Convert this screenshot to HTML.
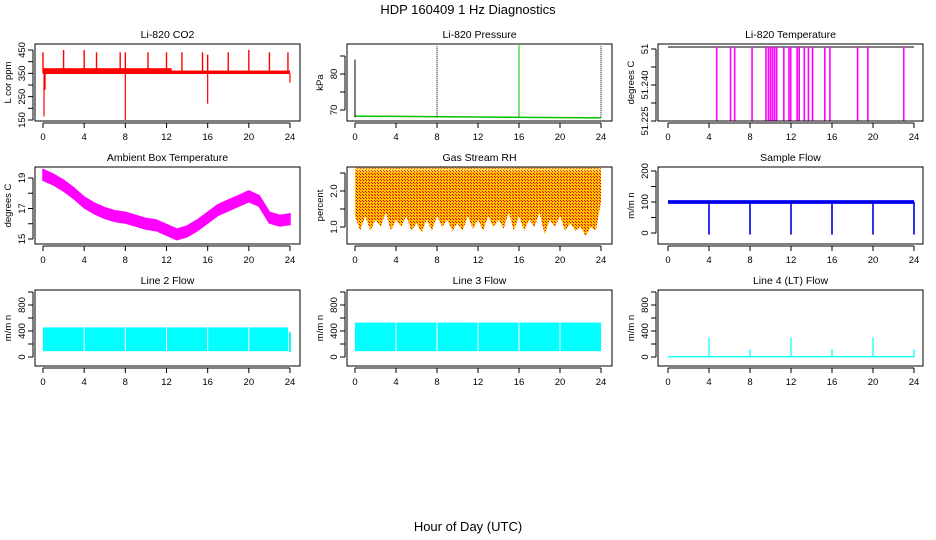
<!DOCTYPE html>
<html><head><meta charset="utf-8"><style>
body{margin:0;background:#fff}
svg{display:block;font-family:"Liberation Sans",sans-serif}
</style></head><body>
<svg id="c" width="936" height="540" viewBox="0 0 936 540">
<defs>
<pattern id="hatch" width="3" height="3" patternUnits="userSpaceOnUse"><rect width="3" height="3" fill="#ffc000"/><rect width="1" height="1" fill="#e00000"/><rect x="2" y="2" width="1" height="1" fill="#e00000"/></pattern>
</defs>
<text x="468" y="14" font-size="13" text-anchor="middle">HDP  160409  1 Hz Diagnostics</text>
<text x="468" y="531" font-size="13" text-anchor="middle">Hour of Day (UTC)</text>
</svg>
<script>
// ---- data ----
const hourTicks=[0,4,8,12,16,20,24];
const co2UpHours=[0,2,4,5.2,7.5,8,10.2,12,13.5,15.5,16,18,20,22,23.8];
const co2UpValues=[440,450,450,440,440,440,440,440,440,440,430,440,450,440,440];
const co2DownHours=[0.1,0.2,8,16,24];
const co2DownValues=[165,280,150,220,310];
const presSpikeHours=[0,8,16,24];
const presSpikeValues=[84,88,88,88];
const tempDropHours=[4.75,6.1,6.5,8.2,9.56,9.8,10.0,10.2,10.4,10.6,11.3,11.8,11.97,12.6,12.8,13.3,13.7,14.1,15.3,15.8,18.5,19.5,23.0];
const ambHours=[0,1,2,3,4,5,6,7,8,9,10,11,12,13,14,15,16,17,18,19,20,21,22,23,24];
const ambValues=[19.2,18.9,18.5,18.0,17.4,17.0,16.7,16.5,16.4,16.2,16.0,15.9,15.6,15.3,15.5,15.9,16.4,16.9,17.2,17.5,17.8,17.5,16.4,16.2,16.3];
const rhHours=[0,0.5,1,1.5,2,2.5,3,3.5,4,4.5,5,5.5,6,6.5,7,7.5,8,8.5,9,9.5,10,10.5,11,11.5,12,12.5,13,13.5,14,14.5,15,15.5,16,16.5,17,17.5,18,18.5,19,19.5,20,20.5,21,21.5,22,22.5,23,23.5,24];
const rhLow=[1.3,0.9,1.3,0.9,1.2,1.0,1.4,0.9,1.2,1.0,1.3,0.9,1.1,0.85,1.2,0.9,1.3,1.0,1.2,0.9,1.1,0.9,1.3,0.95,1.2,0.9,1.3,1.0,1.2,0.95,1.4,0.9,1.3,0.9,1.2,1.0,1.4,0.8,1.2,1.0,1.3,0.9,1.1,0.9,1.0,0.75,1.0,0.9,1.7];
const sampleDipHours=[4,8,12,16,20,24];
const line2Low=90, line2High=455;
const line2Gaps=[4,8,12,16,20,24];
const line3Low=90, line3High=530;
const line4SpikeHours=[4,8,12,16,20,24];
const line4SpikeValues=[300,120,300,120,300,120];

const svg=document.getElementById('c');
const NS='http://www.w3.org/2000/svg';
function el(tag,attrs,parent){const e=document.createElementNS(NS,tag);for(const k in attrs)e.setAttribute(k,attrs[k]);(parent||svg).appendChild(e);return e;}
const cols=[{l:35,r:300,x0:43,x24:290},{l:347,r:612,x0:355,x24:601},{l:658,r:923,x0:668,x24:914}];
const rows=[{t:44,b:121},{t:167,b:244},{t:290,b:366}];

function panel(ci,ri,title,ylab,name,yv0,yp0,yv1,yp1,ticks,labels){
  const c=cols[ci],r=rows[ri];
  const g=el('g',{});
  
  
  const xs=h=>c.x0+h*(c.x24-c.x0)/24;
  const ys=v=>yp0+(v-yv0)*(yp1-yp0)/(yv1-yv0);
  const plot=el('g',{},g);
  
  
  el('rect',{x:c.l,y:r.t,width:c.r-c.l,height:r.b-r.t,fill:'none',stroke:'#000','stroke-width':1},g);
  const t=el('text',{x:(c.l+c.r)/2,y:r.t-6,'font-size':10.5,'text-anchor':'middle'},g);t.textContent=title;
  
  const xa=el('g',{},g);
  
  el('line',{x1:xs(0),x2:xs(24),y1:r.b+2,y2:r.b+2,stroke:'#000'},xa);
  hourTicks.forEach(h=>{el('line',{x1:xs(h),x2:xs(h),y1:r.b+2,y2:r.b+7,stroke:'#000'},xa);
    const tx=el('text',{x:xs(h),y:r.b+19,'font-size':9.5,'text-anchor':'middle'},xa);tx.textContent=h;});
  const ya=el('g',{},g);
  
  el('line',{x1:c.l-2,x2:c.l-2,y1:ys(ticks[0]),y2:ys(ticks[ticks.length-1]),stroke:'#000'},ya);
  ticks.forEach((v,i)=>{el('line',{x1:c.l-7,x2:c.l-2,y1:ys(v),y2:ys(v),stroke:'#000'},ya);
    if(labels[i]!==''){const tx=el('text',{x:0,y:0,'font-size':9.5,'text-anchor':'middle',transform:`translate(${c.l-10},${ys(v)}) rotate(-90)`},ya);tx.textContent=labels[i];}});
  const yl=el('text',{x:0,y:0,'font-size':9.5,'text-anchor':'middle',transform:`translate(${c.l-24},${(r.t+r.b)/2}) rotate(-90)`},g);yl.textContent=ylab;
  
  return {xs,ys,plot,c,r};
}

{const p=panel(0,0,'Li-820 CO2','L cor ppm','co2',150,120,450,50,[150,200,250,300,350,400,450],['150','','250','','350','','450']);
 el('rect',{x:p.xs(0),y:p.ys(362),width:p.xs(24)-p.xs(0),height:p.ys(347)-p.ys(362),fill:'#f00'},p.plot);
 el('rect',{x:p.xs(0),y:p.ys(372),width:p.xs(12.5)-p.xs(0),height:p.ys(362)-p.ys(372),fill:'#f00'},p.plot);
 co2UpHours.forEach((h,i)=>el('rect',{x:p.xs(h)-0.7,y:p.ys(co2UpValues[i]),width:1.4,height:p.ys(350)-p.ys(co2UpValues[i]),fill:'#f00'},p.plot));
 co2DownHours.forEach((h,i)=>el('rect',{x:p.xs(h)-0.6,y:p.ys(350),width:1.2,height:p.ys(co2DownValues[i])-p.ys(350),fill:'#f00'},p.plot));}
{const p=panel(1,0,'Li-820 Pressure','kPa','pressure',70,110,80,74,[70,75,80,85],['70','','80','']);
 el('line',{x1:p.xs(0),x2:p.xs(24),y1:p.ys(68.3),y2:p.ys(67.8),stroke:'#00c000','stroke-width':1.5},p.plot);
 presSpikeHours.forEach((h,i)=>el('line',{x1:p.xs(h),x2:p.xs(h),y1:p.ys(68),y2:p.ys(presSpikeValues[i]),stroke:h%16==0&&h>0?'#00c000':'#000','stroke-width':1,'stroke-dasharray':h==8||h==24?'1,1':''},p.plot));}
{const p=panel(2,0,'Li-820 Temperature','degrees C','li820-temp',51.225,121,51.240,67,[51.225,51.23,51.235,51.24,51.245],['51.225','','51.240','','51']);
 el('line',{x1:p.xs(0),x2:p.xs(24),y1:47,y2:47,stroke:'#000','stroke-width':1},p.plot);
 tempDropHours.forEach(h=>el('rect',{x:p.xs(h)-0.8,y:47,width:1.6,height:p.ys(51.225)-47,fill:'#f0f'},p.plot));}
{const p=panel(0,1,'Ambient Box Temperature','degrees C','ambient-temp',15,239,19,178,[15,16,17,18,19],['15','','17','','19']);
 const up=ambHours.map((h,i)=>p.xs(h)+','+p.ys(ambValues[i]+0.35)).join(' ');
 const dn=ambHours.slice().reverse().map((h,j)=>{const i=ambHours.length-1-j;return p.xs(h)+','+p.ys(ambValues[i]-0.35);}).join(' ');
 el('polygon',{points:up+' '+dn,fill:'#f0f',stroke:'#f0f','stroke-width':1.5},p.plot);}
{const p=panel(1,1,'Gas Stream RH','percent','gas-rh',1.0,227,2.0,191,[1.0,1.5,2.0,2.5],['1.0','','2.0','']);
 const up=p.xs(0)+','+p.ys(2.55)+' '+p.xs(24)+','+p.ys(2.55);
 const dn=rhHours.slice().reverse().map((h,j)=>{const i=rhHours.length-1-j;return p.xs(h)+','+p.ys(rhLow[i]);}).join(' ');
 el('polygon',{points:up+' '+dn,fill:'url(#hatch)'},p.plot);
 el('rect',{x:p.xs(0),y:p.ys(2.65),width:p.xs(24)-p.xs(0),height:p.ys(2.55)-p.ys(2.65),fill:'url(#hatch)',opacity:0.7},p.plot);}
{const p=panel(2,1,'Sample Flow','m/m n','sample-flow',0,233,100,202,[0,50,100,150,200],['0','','100','','200']);
 el('rect',{x:p.xs(0),y:p.ys(106),width:p.xs(24)-p.xs(0),height:p.ys(94)-p.ys(106),fill:'#0000f0'},p.plot);
 sampleDipHours.forEach(h=>el('rect',{x:p.xs(h)-0.8,y:p.ys(100),width:1.6,height:p.ys(-5)-p.ys(100),fill:'#0000f0'},p.plot));}
{const p=panel(0,2,'Line 2 Flow','m/m n','line2-flow',0,357,400,331,[0,200,400,600,800,1000],['0','','400','','800','']);
 el('rect',{x:p.xs(0),y:p.ys(line2High),width:p.xs(23.8)-p.xs(0),height:p.ys(line2Low)-p.ys(line2High),fill:'#0ff'},p.plot);
 line2Gaps.forEach(h=>el('rect',{x:p.xs(h)-0.5,y:p.ys(line2High),width:1,height:p.ys(line2Low)-p.ys(line2High),fill:'#fff'},p.plot));
 el('rect',{x:p.xs(23.9),y:p.ys(380),width:2,height:p.ys(80)-p.ys(380),fill:'#0ff'},p.plot);}
{const p=panel(1,2,'Line 3 Flow','m/m n','line3-flow',0,357,400,331,[0,200,400,600,800,1000],['0','','400','','800','']);
 el('rect',{x:p.xs(0),y:p.ys(line3High),width:p.xs(24)-p.xs(0),height:p.ys(line3Low)-p.ys(line3High),fill:'#0ff'},p.plot);
 line2Gaps.slice(0,5).forEach(h=>el('rect',{x:p.xs(h)-0.5,y:p.ys(line3High),width:1,height:p.ys(line3Low)-p.ys(line3High),fill:'#fff'},p.plot));}
{const p=panel(2,2,'Line 4 (LT) Flow','m/m n','line4-flow',0,357,400,331,[0,200,400,600,800,1000],['0','','400','','800','']);
 el('rect',{x:p.xs(0),y:p.ys(15),width:p.xs(24)-p.xs(0),height:p.ys(-5)-p.ys(15),fill:'#0ff'},p.plot);
 line4SpikeHours.forEach((h,i)=>el('rect',{x:p.xs(h)-0.6,y:p.ys(line4SpikeValues[i]),width:1.2,height:p.ys(0)-p.ys(line4SpikeValues[i]),fill:'#0ff'},p.plot));}
</script>
</body></html>
